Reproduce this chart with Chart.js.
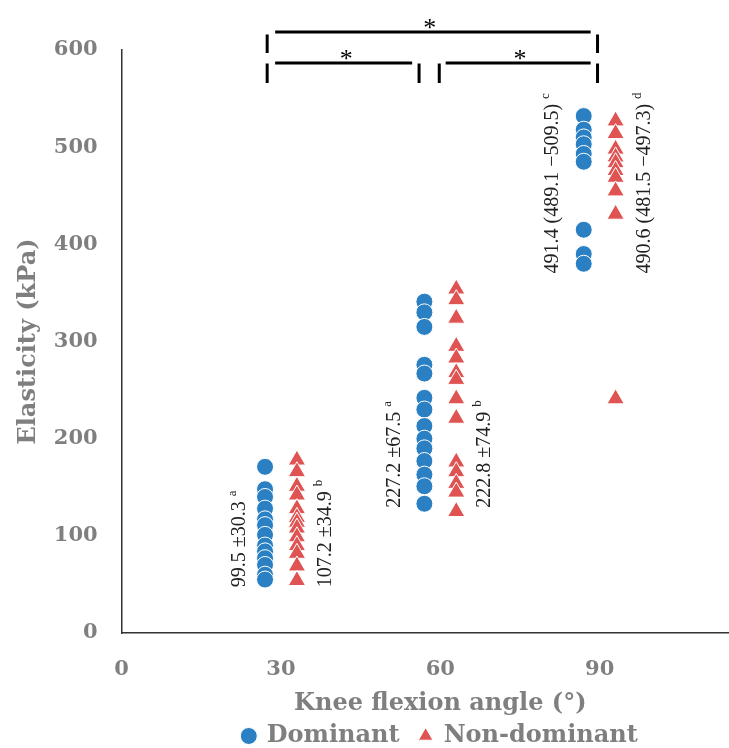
<!DOCTYPE html>
<html>
<head>
<meta charset="utf-8">
<script src="https://cdn.jsdelivr.net/npm/chart.js@4.4.1/dist/chart.umd.min.js"></script>
<style>
  html, body { margin: 0; padding: 0; background: #fff; overflow: hidden; }
  #wrap { width: 770px; height: 748px; }
</style>
</head>
<body>
<div id="wrap"><canvas id="myChart"></canvas></div>
<script>
// knee flexion angles and the axis ticks
const angles = [30, 60, 90];
const xTicks = [0, 30, 60, 90];
const yTicks = [0, 100, 200, 300, 400, 500, 600];

// elasticity (kPa)
const dominant30 = [171, 148, 140, 128, 117, 111, 101, 90, 84, 77, 70, 60, 55];
const dominant60 = [341, 330, 315, 276, 267, 242, 230, 213, 200, 190, 177, 163, 151, 133];
const dominant90 = [532, 518, 510, 503, 493, 485, 415, 390, 380];
const nonDominant30 = [178, 166, 151, 142, 128, 119, 114, 108, 99, 90, 82, 69, 54];
const nonDominant60 = [354, 343, 324, 295, 283, 268, 261, 241, 221, 176, 166, 154, 145, 125];
const nonDominant90 = [527, 514, 498, 490, 484, 476, 469, 455, 431, 241];

// summary text next to each group
const noteTexts = ['99.5 \u00b130.3', '107.2 \u00b134.9', '227.2 \u00b167.5', '222.8 \u00b174.9',
  '491.4 (489.1 \u2212509.5)', '490.6 (481.5 \u2212497.3)'];
const noteSups = ['a', 'b', 'a', 'b', 'c', 'd'];

const offset = 3; // side-by-side spread of the two legs

const toPoints = (groups, shift) => {
  const pts = [];
  groups.forEach((vals, i) => {
    vals.forEach(v => pts.push({ x: angles[i] + shift, y: v }));
  });
  return pts;
}

const dominantPoints = toPoints([dominant30, dominant60, dominant90], -offset);
const nonDominantPoints = toPoints([nonDominant30, nonDominant60, nonDominant90], offset);

// where the summary text sits (data units), rotated bottom-to-top
const notePlaces = [
  { x: 22.2, y: 47 }, { x: 38.4, y: 47 },
  { x: 51.4, y: 129 }, { x: 68.3, y: 129 },
  { x: 81.2, y: 370 }, { x: 98.5, y: 370 }
];

// significance brackets
const brackets = [
  { ticks: [27.4, 89.6], tickY: [616, 597], line: [28.9, 88.3], lineY: 618.6, starX: 58, starY: 628 },
  { ticks: [27.4, 56], tickY: [586, 566], line: [28.9, 54.7], lineY: 586.6, starX: 42.3, starY: 596 },
  { ticks: [59.8, 89.6], tickY: [586, 566], line: [61, 88.3], lineY: 586.6, starX: 75, starY: 596 }
];

const notesPlugin = {
  id: 'notes',
  afterDatasetsDraw(chart) {
    const ctx = chart.ctx;
    const xs = chart.scales.x;
    const ys = chart.scales.y;
    ctx.save();
    ctx.fillStyle = '#222';
    notePlaces.forEach((p, i) => {
      const px = xs.getPixelForValue(p.x);
      const py = ys.getPixelForValue(p.y);
      ctx.save();
      ctx.translate(px, py);
      ctx.rotate(-Math.PI / 2);
      ctx.font = '20px "Liberation Serif"';
      ctx.textAlign = 'left';
      ctx.textBaseline = 'middle';
      ctx.fillText(noteTexts[i], 0, 0);
      const w = ctx.measureText(noteTexts[i]).width;
      ctx.font = '13px "Liberation Serif"';
      ctx.fillText(noteSups[i], w + 5, -7);
      ctx.restore();
    });

    ctx.strokeStyle = '#000';
    ctx.lineWidth = 3;
    ctx.font = '26px "Liberation Serif"';
    ctx.textAlign = 'center';
    ctx.textBaseline = 'middle';
    ctx.fillStyle = '#000';
    brackets.forEach(b => {
      ctx.beginPath();
      ctx.moveTo(xs.getPixelForValue(b.line[0]), ys.getPixelForValue(b.lineY));
      ctx.lineTo(xs.getPixelForValue(b.line[1]), ys.getPixelForValue(b.lineY));
      b.ticks.forEach(t => {
        ctx.moveTo(xs.getPixelForValue(t), ys.getPixelForValue(b.tickY[0]));
        ctx.lineTo(xs.getPixelForValue(t), ys.getPixelForValue(b.tickY[1]));
      });
      ctx.stroke();
      ctx.fillText('*', xs.getPixelForValue(b.starX), ys.getPixelForValue(b.starY) + 6);
    });
    ctx.restore();
  }
}

const grey = '#7f7f7f';
const tickFont = { family: '"DejaVu Serif"', size: 21, weight: 'bold' };
const titleFont = { family: '"DejaVu Serif"', size: 24, weight: 'bold' };

const ctx = document.getElementById('myChart');

const config = {
  type: 'scatter',
  data: {
    datasets: [
      {
        label: 'Dominant',
        data: dominantPoints,
        pointStyle: 'circle',
        pointRadius: 8.5,
        pointHoverRadius: 8.5,
        backgroundColor: '#2a80c3',
        borderColor: '#fff',
        borderWidth: 1
      },
      {
        label: 'Non-dominant',
        data: nonDominantPoints,
        pointStyle: 'triangle',
        pointRadius: 10,
        pointHoverRadius: 10,
        backgroundColor: '#e05353',
        borderColor: '#fff',
        borderWidth: 1
      }
    ]
  },
  options: {
    responsive: true,
    maintainAspectRatio: false,
    animation: false,
    layout: { padding: { top: 50, right: 5, left: 4, bottom: -10 } },
    plugins: {
      tooltip: { enabled: false },
      legend: {
        position: 'bottom',
        fullSize: false,
        labels: {
          usePointStyle: true,
          boxWidth: 12,
          boxHeight: 12,
          padding: 20,
          color: grey,
          font: titleFont
        }
      }
    },
    scales: {
      x: {
        type: 'linear',
        min: 0,
        max: 120,
        afterBuildTicks: (scale) => { scale.ticks = xTicks.map(v => ({ value: v })); },
        grid: { display: false },
        border: { display: true, color: '#333', width: 1.5 },
        ticks: { color: grey, font: tickFont, padding: 16 },
        title: { display: true, text: 'Knee flexion angle (\u00b0)', color: grey, font: titleFont, padding: { top: -9, bottom: -14 } }
      },
      y: {
        min: 0,
        max: 600,
        afterBuildTicks: (scale) => { scale.ticks = yTicks.map(v => ({ value: v })); },
        grid: { display: false },
        border: { display: true, color: '#333', width: 1.5 },
        ticks: { color: grey, font: tickFont, padding: 16 },
        title: { display: true, text: 'Elasticity (kPa)', color: grey, font: titleFont, padding: { top: 10, bottom: -5 } }
      }
    }
  },
  plugins: [notesPlugin]
}

const graph = new Chart(ctx, config);
</script>
</body>
</html>
